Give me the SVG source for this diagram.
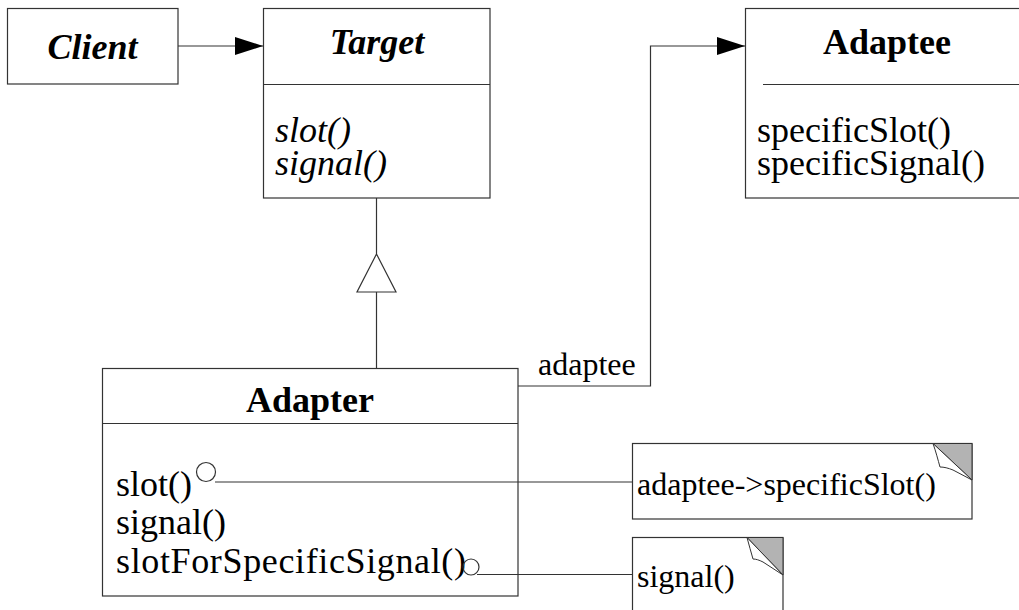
<svg xmlns="http://www.w3.org/2000/svg" width="1019" height="610" viewBox="0 0 1019 610">
  <style>
    .box { fill: #ffffff; stroke: #333333; stroke-width: 1.2; }
    .ln { fill: none; stroke: #333333; stroke-width: 1.2; }
    .t { font-size: 36px; fill: #000000; }
    .title { font-weight: bold; text-anchor: middle; }
    .it { font-style: italic; }
    .note { font-size: 32px; fill: #000000; }
    .ear { fill: #b3b3b3; stroke: #333333; stroke-width: 1; }
    .curl { fill: #ffffff; stroke: #333333; stroke-width: 1; }
  </style>
  <defs>
    <marker id="arrow" markerWidth="28" markerHeight="18" refX="28" refY="9" orient="auto" markerUnits="userSpaceOnUse">
      <path d="M0,0 L28,9 L0,18 Z" fill="#000000"/>
    </marker>
  </defs>

  <g font-family="Liberation Serif, Tinos, Times New Roman, DejaVu Serif, serif">
    <g id="client">
      <rect class="box" x="7.5" y="8.5" width="170.5" height="75.5"/>
      <text class="t title it" x="92.5" y="59">Client</text>
    </g>

    <g id="target">
      <rect class="box" x="263.5" y="8.5" width="226.5" height="189.5"/>
      <line class="ln" x1="263.5" y1="84.5" x2="490" y2="84.5"/>
      <text class="t title it" x="377" y="54">Target</text>
      <text class="t it" x="275" y="142">slot()</text>
      <text class="t it" x="275" y="175">signal()</text>
    </g>

    <g id="adaptee">
      <rect class="box" x="745.5" y="8.5" width="290" height="189.5"/>
      <line class="ln" x1="763" y1="84.5" x2="1019" y2="84.5"/>
      <text class="t title" x="887" y="54">Adaptee</text>
      <text class="t" x="757" y="142">specificSlot()</text>
      <text class="t" x="757" y="175">specificSignal()</text>
    </g>

    <g id="adapter">
      <rect class="box" x="102.5" y="368.5" width="415.5" height="227.5"/>
      <line class="ln" x1="102.5" y1="423.5" x2="518" y2="423.5"/>
      <text class="t title" x="310" y="412">Adapter</text>
      <text class="t" x="116" y="496">slot()</text>
      <text class="t" x="116" y="534">signal()</text>
      <text class="t" x="116" y="573" textLength="350" lengthAdjust="spacing">slotForSpecificSignal()</text>
    </g>

    <g id="note-slot">
      <rect class="box" x="632.5" y="443.5" width="339.5" height="75.5"/>
      <polygon class="ear" points="933,443.5 972,443.5 972,480"/>
      <path class="curl" d="M933,443.5 C936,452 938,460 940,467 C944,467 948,468 953,470 L972,480 Z"/>
      <text class="note" x="637" y="495">adaptee-&gt;specificSlot()</text>
    </g>

    <g id="note-signal">
      <rect class="box" x="632.5" y="537.5" width="150.5" height="90"/>
      <polygon class="ear" points="747,537.5 783,537.5 783,575"/>
      <path class="curl" d="M747,537.5 C749,545 751,552 753,559 C756,559 759,560 763,562 L783,575 Z"/>
      <text class="note" x="637" y="587">signal()</text>
    </g>

    <!-- connectors, drawn over the class boxes -->
    <g id="connectors">
      <line class="ln" x1="178" y1="46" x2="263" y2="46" marker-end="url(#arrow)"/>
      <path class="ln" d="M518,386 H650.5 V46 H745" marker-end="url(#arrow)"/>
      <text class="note" x="538" y="375">adaptee</text>
      <!-- generalization: Adapter to Target -->
      <line class="ln" x1="376.5" y1="198" x2="376.5" y2="254"/>
      <polygon class="ln" points="376.5,254 357,292 396,292" fill="#ffffff"/>
      <line class="ln" x1="376.5" y1="292" x2="376.5" y2="368"/>
      <!-- method implementation notes -->
      <circle class="ln" cx="206" cy="472" r="9.5"/>
      <line class="ln" x1="215" y1="482" x2="632" y2="482"/>
      <circle class="ln" cx="471" cy="567" r="8"/>
      <line class="ln" x1="477" y1="574.5" x2="632" y2="574.5"/>
    </g>
  </g>
</svg>
